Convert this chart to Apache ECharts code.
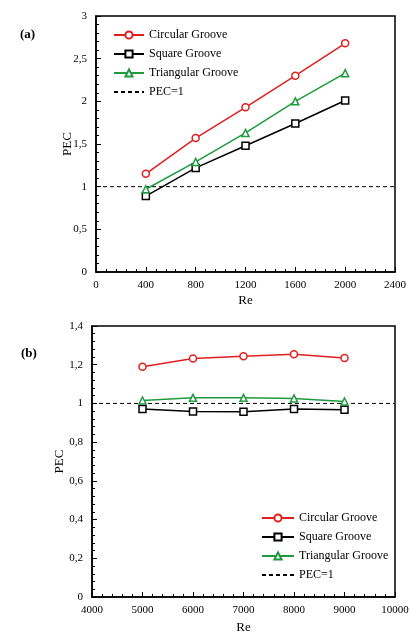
<!DOCTYPE html>
<html>
	<head>
		<meta charset="utf-8">
		<title></title>
		<script src="https://cdn.jsdelivr.net/npm/echarts@6/dist/echarts.min.js"></script>
		<style>
			html, body { margin: 0; padding: 0; background: #fff; }
		</style>
	</head>
	<body>
		<div id="main" style="width: 418px;height:640px;"></div>
		<script>
			// (a) low Re
			var reA = [400, 800, 1200, 1600, 2000];
			var circularA = [1.15, 1.57, 1.93, 2.30, 2.68];
			var squareA = [0.89, 1.22, 1.48, 1.74, 2.01];
			var triangularA = [0.97, 1.29, 1.63, 2.00, 2.33];
			var pecLineA = [0, 2400];

			// (b) high Re
			var reB = [5000, 6000, 7000, 8000, 9000];
			var circularB = [1.19, 1.232, 1.244, 1.254, 1.235];
			var squareB = [0.971, 0.958, 0.957, 0.971, 0.967];
			var triangularB = [1.015, 1.029, 1.029, 1.026, 1.01];
			var pecLineB = [4000, 10000];

			var names = ['Circular Groove', 'Square Groove', 'Triangular Groove', 'PEC=1'];
			var red = '#e0201f', green = '#1f9a3e';
			var font = 'Liberation Serif';

			function pairs(xs, ys) {
				return xs.map(function (x, i) { return [x, ys[i]]; });
			}
			function comma(v) {
				return String(Number(v.toFixed(2))).replace('.', ',');
			}

			function xAx(idx, min, max, step, gap) {
				return {
					type: 'value', gridIndex: idx, min: min, max: max, interval: step,
					name: 'Re', nameLocation: 'middle', nameGap: gap, nameMoveOverlap: false,
					nameTextStyle: { fontFamily: font, fontSize: 13, color: '#000' },
					axisLine: { lineStyle: { color: '#000', width: 1.5 } },
					axisTick: { inside: true, length: 5, lineStyle: { color: '#000' } },
					minorTick: { show: true, splitNumber: 5, length: 3, lineStyle: { color: '#000' } },
					axisLabel: { fontFamily: font, fontSize: 11, color: '#000', margin: 8, formatter: function (v) { return String(v); } },
					splitLine: { show: false }
				};
			}
			function yAx(idx, max, step, gap) {
				return {
					type: 'value', gridIndex: idx, min: 0, max: max, interval: step,
					name: 'PEC', nameLocation: 'middle', nameGap: gap, nameMoveOverlap: false,
					nameTextStyle: { fontFamily: font, fontSize: 13, color: '#000' },
					axisLine: { show: true, lineStyle: { color: '#000', width: 1.5 } },
					axisTick: { show: true, inside: true, length: 5, lineStyle: { color: '#000' } },
					minorTick: { show: true, splitNumber: 5, length: 3, lineStyle: { color: '#000' } },
					axisLabel: { fontFamily: font, fontSize: 11, color: '#000', margin: 9, formatter: comma },
					splitLine: { show: false }
				};
			}
			function line(name, idx, data, color, symbol) {
				return {
					name: name, type: 'line', xAxisIndex: idx, yAxisIndex: idx, data: data,
					symbol: symbol, symbolSize: 7, showAllSymbol: true,
					itemStyle: { color: '#fff', borderColor: color, borderWidth: 1.5 },
					lineStyle: { color: color, width: 1.5 },
					color: color, z: 3
				};
			}
			function dashed(idx, xs) {
				return {
					name: 'PEC=1', type: 'line', xAxisIndex: idx, yAxisIndex: idx,
					data: pairs(xs, [1, 1]), symbol: 'none', color: '#000',
					lineStyle: { color: '#000', width: 1, type: [4, 3] }, z: 2
				};
			}
			function legend(left, top, w) {
				return {
					data: names.map(function (n) {
						return n === 'PEC=1' ? { name: n, itemStyle: { opacity: 0 } } : n;
					}),
					orient: 'vertical', left: left, top: top, padding: 0,
					itemWidth: w, itemHeight: 9, itemGap: 7, selectedMode: false,
					textStyle: { fontFamily: font, fontSize: 12, color: '#000' }
				};
			}

			var myChart = echarts.init(document.getElementById('main'));
			var option = {
				animation: false,
				grid: [
					{ left: 96, top: 16, width: 299, height: 256, show: true, borderColor: '#000', borderWidth: 1.5 },
					{ left: 92, top: 326, width: 303, height: 271, show: true, borderColor: '#000', borderWidth: 1.5 }
				],
				xAxis: [xAx(0, 0, 2400, 400, 22), xAx(1, 4000, 10000, 1000, 24)],
				yAxis: [yAx(0, 3, 0.5, 22), yAx(1, 1.4, 0.2, 26)],
				legend: [legend(113, 29, 30), legend(261, 512, 32)],
				graphic: [
					{ type: 'text', left: 20, top: 28, style: { text: '(a)', font: 'bold 13px "Liberation Serif"', fill: '#000' } },
					{ type: 'text', left: 21, top: 347, style: { text: '(b)', font: 'bold 13px "Liberation Serif"', fill: '#000' } }
				],
				series: [
					line('Circular Groove', 0, pairs(reA, circularA), red, 'circle'),
					line('Square Groove', 0, pairs(reA, squareA), '#000', 'rect'),
					line('Triangular Groove', 0, pairs(reA, triangularA), green, 'triangle'),
					dashed(0, pecLineA),
					line('Circular Groove', 1, pairs(reB, circularB), red, 'circle'),
					line('Square Groove', 1, pairs(reB, squareB), '#000', 'rect'),
					line('Triangular Groove', 1, pairs(reB, triangularB), green, 'triangle'),
					dashed(1, pecLineB)
				]
			};
			myChart.setOption(option);
		</script>
	</body>
</html>
